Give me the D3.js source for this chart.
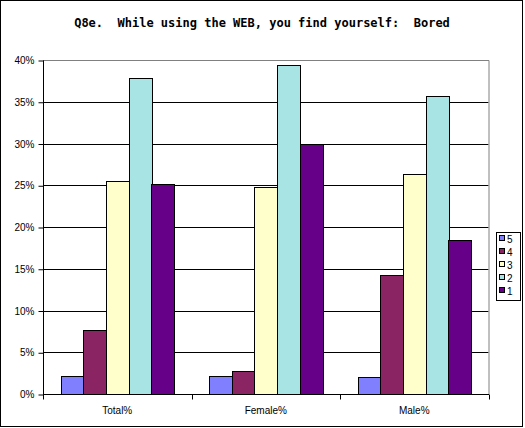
<!DOCTYPE html>
<html>
<head>
<meta charset="utf-8">
<script src="https://cdn.jsdelivr.net/npm/d3@7"></script>
<style>
  body { margin: 0; background: #fff; }
  svg { display: block; }
</style>
</head>
<body>
<div id="chart"></div>
<script>
// Chart data
var categories = ["Total%", "Female%", "Male%"];
var seriesNames = ["5", "4", "3", "2", "1"];
var values5 = [2.1, 2.1, 2.0];
var values4 = [7.7, 2.8, 14.2];
var values3 = [25.5, 24.8, 26.4];
var values2 = [37.8, 39.4, 35.7];
var values1 = [25.1, 29.9, 18.4];
var yTicks = [0, 5, 10, 15, 20, 25, 30, 35, 40];

var seriesValues = [values5, values4, values3, values2, values1];
var colors = ["#8080ff", "#8b2462", "#ffffcc", "#a8e4e4", "#660088"];

var width = 525, height = 428;
// plot area edges (note: "top" is reserved on window, so use plot* names)
var plotLeft = 43, plotRight = 488.5, plotTop = 60, plotBottom = 394;

var svg = d3.select("#chart").append("svg")
  .attr("width", width)
  .attr("height", height);

// Outer frame
svg.append("rect")
  .attr("x", 0.5).attr("y", 0.5)
  .attr("width", 522).attr("height", 426)
  .attr("fill", "white").attr("stroke", "black");

// Title
svg.append("text")
  .attr("x", 262).attr("y", 27)
  .attr("text-anchor", "middle")
  .style("font-family", "'DejaVu Sans Mono', monospace")
  .style("font-weight", "bold")
  .style("font-size", "12px")
  .style("white-space", "pre")
  .text("Q8e.  While using the WEB, you find yourself:  Bored");

var y = d3.scaleLinear().domain([0, 40]).range([plotBottom, plotTop]);
var x0 = d3.scaleBand().domain(categories).range([plotLeft, plotRight]);
var gapHalf = x0.bandwidth() * 0.118;
var x1 = d3.scaleBand().domain(seriesNames).range([gapHalf, x0.bandwidth() - gapHalf]);

// Gridlines
svg.append("g").selectAll("line")
  .data(yTicks.filter(function (d) { return d > 0 && d < 40; }))
  .enter().append("line")
  .attr("x1", plotLeft).attr("x2", plotRight)
  .attr("y1", function (d) { return Math.round(y(d)) + 0.5; })
  .attr("y2", function (d) { return Math.round(y(d)) + 0.5; })
  .attr("stroke", "black");

// Plot area border (top and right) in gray
svg.append("path")
  .attr("d", "M" + plotLeft + "," + (plotTop + 0.5) + "H" + (plotRight + 0.5) + "V" + plotBottom)
  .attr("fill", "none").attr("stroke", "#808080");

// Bars
var rows = [];
categories.forEach(function (c, ci) {
  seriesNames.forEach(function (s, si) {
    rows.push({ cat: c, series: s, value: seriesValues[si][ci], color: colors[si] });
  });
});

svg.append("g").selectAll("rect")
  .data(rows)
  .enter().append("rect")
  .attr("x", function (d) { return Math.round(x0(d.cat) + x1(d.series)) + 0.5; })
  .attr("y", function (d) { return Math.round(y(d.value)) + 0.5; })
  .attr("width", function () { return Math.round(x1.bandwidth()); })
  .attr("height", function (d) { return plotBottom - Math.round(y(d.value)); })
  .attr("fill", function (d) { return d.color; })
  .attr("stroke", "black");

// Y axis
var yAxis = svg.append("g")
  .attr("transform", "translate(" + (plotLeft + 0.5) + ",0.5)")
  .call(d3.axisLeft(y).tickValues(yTicks).tickSize(5).tickPadding(4)
    .tickFormat(function (d) { return d + "%"; }));
yAxis.select(".domain").attr("d", "M0," + plotTop + "V" + plotBottom);
yAxis.selectAll("text")
  .style("font-family", "'Liberation Sans', Arial, sans-serif")
  .style("font-size", "10px")
  .attr("fill", "black");

// X axis
var xAxis = svg.append("g")
  .attr("transform", "translate(0," + (plotBottom + 0.5) + ")");
xAxis.append("line")
  .attr("x1", plotLeft).attr("x2", plotRight + 0.5)
  .attr("stroke", "black");
xAxis.selectAll("line.tick")
  .data(categories.concat(["end"]))
  .enter().append("line")
  .attr("class", "tick")
  .attr("x1", function (d) { return Math.round(d === "end" ? plotRight : x0(d)) + 0.5; })
  .attr("x2", function (d) { return Math.round(d === "end" ? plotRight : x0(d)) + 0.5; })
  .attr("y1", 0).attr("y2", 5)
  .attr("stroke", "black");
xAxis.selectAll("text")
  .data(categories)
  .enter().append("text")
  .attr("x", function (d) { return x0(d) + x0.bandwidth() / 2; })
  .attr("y", 19)
  .attr("text-anchor", "middle")
  .style("font-family", "'Liberation Sans', Arial, sans-serif")
  .style("font-size", "10px")
  .text(function (d) { return d; });

// Legend
var legend = svg.append("g").attr("transform", "translate(496,232)");
legend.append("rect")
  .attr("x", 0.5).attr("y", 0.5)
  .attr("width", 24).attr("height", 68)
  .attr("fill", "white").attr("stroke", "black");
var items = legend.selectAll("g.item")
  .data(seriesNames)
  .enter().append("g")
  .attr("class", "item")
  .attr("transform", function (d, i) { return "translate(0," + (i * 13) + ")"; });
items.append("rect")
  .attr("x", 3.5).attr("y", 3.5)
  .attr("width", 5).attr("height", 5)
  .attr("fill", function (d, i) { return colors[i]; })
  .attr("stroke", "black");
items.append("text")
  .attr("x", 11).attr("y", 10.5)
  .style("font-family", "'Liberation Sans', Arial, sans-serif")
  .style("font-size", "10px")
  .text(function (d) { return d; });
</script>
</body>
</html>
